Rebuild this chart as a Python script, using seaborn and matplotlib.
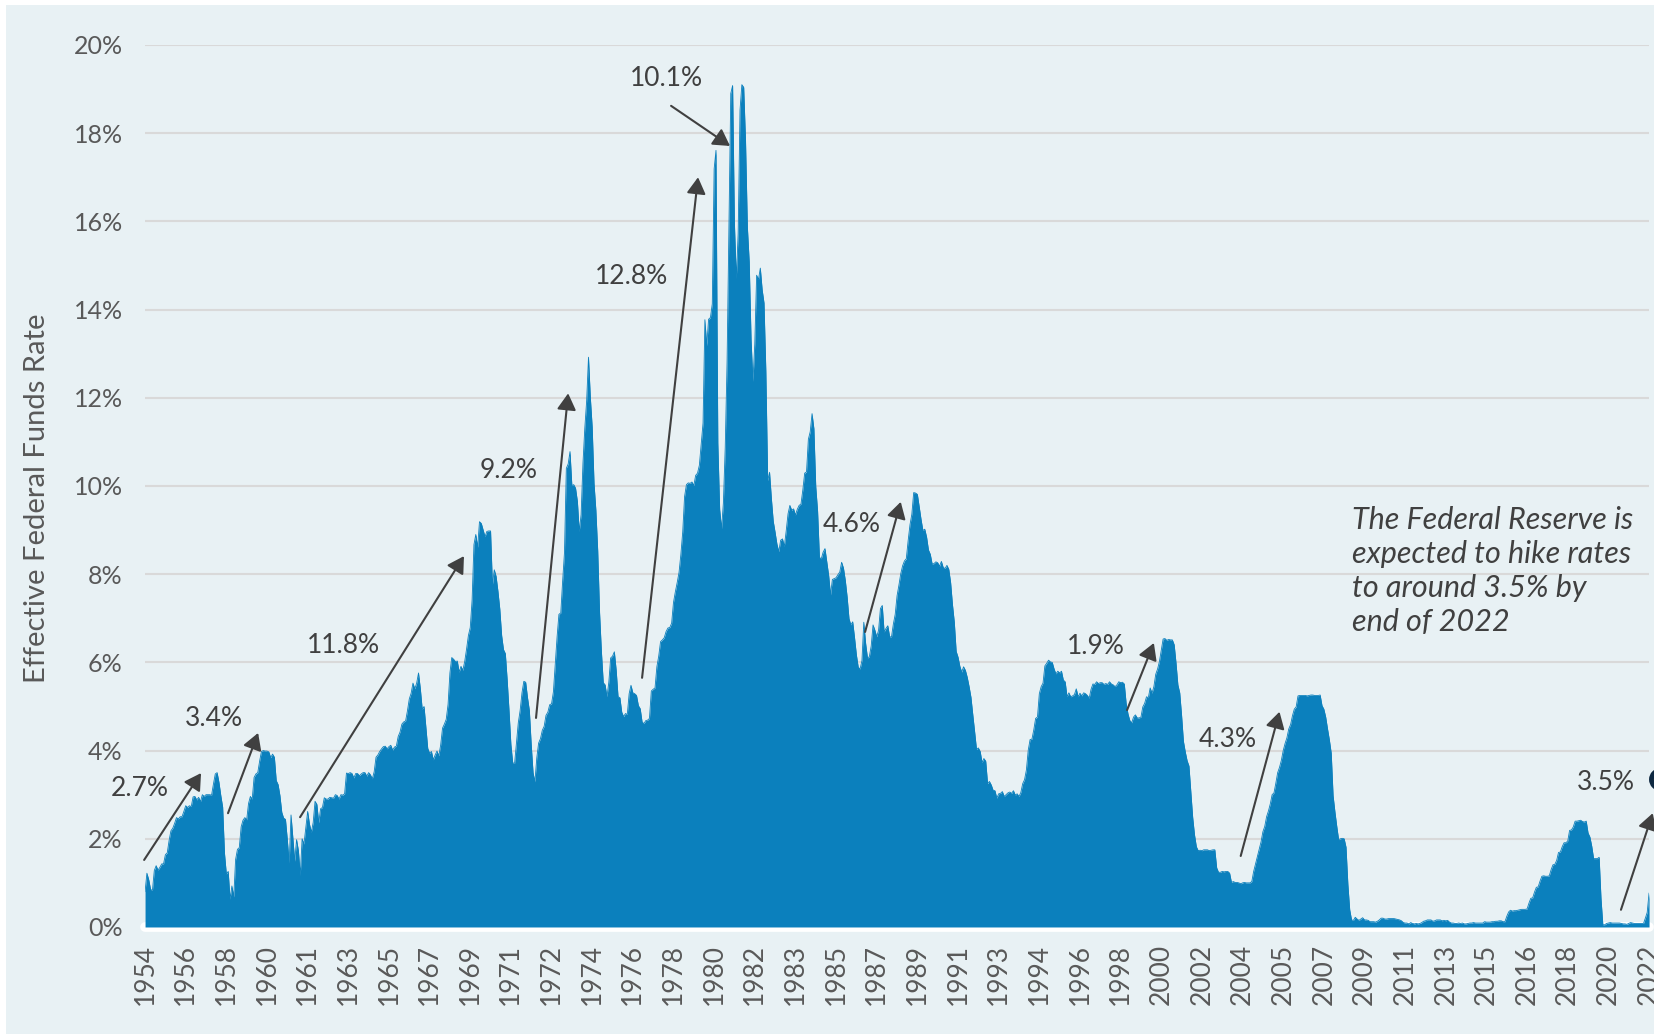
import matplotlib

matplotlib.use("Agg")

import matplotlib.pyplot as plt
import numpy as np
import pandas as pd
import seaborn as sns
from matplotlib.patches import Rectangle

BG = "#E8F1F4"
FILL = "#0B80BD"
GRID = "#D9D9D9"
TICK_GRAY = "#595959"
NOTE_GRAY = "#404040"

# monthly effective federal funds rate in %, Jul 1954 .. May 2022
rates_1950s = [
    0.80, 1.22, 1.07, 0.85, 0.83, 1.28,
    1.39, 1.29, 1.35, 1.43, 1.43, 1.64, 1.68, 1.96, 2.18, 2.24, 2.35, 2.48,
    2.45, 2.50, 2.50, 2.62, 2.75, 2.71, 2.75, 2.73, 2.95, 2.96, 2.88, 2.94,
    2.84, 3.00, 2.96, 3.00, 3.00, 3.00, 2.99, 3.24, 3.47, 3.50, 3.28, 2.98,
    2.72, 1.67, 1.20, 1.26, 0.63, 0.93, 0.68, 1.53, 1.76, 1.80, 2.27, 2.42,
    2.48, 2.43, 2.80, 2.96, 2.90, 3.39, 3.47, 3.50, 3.76, 3.98, 4.00, 3.99,
]
rates_1960s = [
    3.99, 3.97, 3.84, 3.92, 3.85, 3.32, 3.23, 2.98, 2.60, 2.47, 2.44, 1.98,
    1.45, 2.54, 2.02, 1.49, 1.98, 1.73, 1.17, 2.00, 1.88, 2.26, 2.62, 2.33,
    2.15, 2.37, 2.85, 2.78, 2.36, 2.68, 2.71, 2.93, 2.90, 2.90, 2.94, 2.93,
    2.92, 3.00, 2.98, 2.90, 3.00, 2.99, 3.02, 3.49, 3.48, 3.50, 3.48, 3.38,
    3.48, 3.48, 3.43, 3.47, 3.50, 3.50, 3.42, 3.50, 3.45, 3.36, 3.52, 3.85,
    3.90, 3.98, 4.04, 4.09, 4.10, 4.04, 4.09, 4.12, 4.01, 4.08, 4.10, 4.32,
    4.42, 4.60, 4.65, 4.67, 4.90, 5.17, 5.30, 5.53, 5.40, 5.53, 5.76, 5.40,
    4.94, 5.00, 4.53, 4.05, 3.94, 3.98, 3.79, 3.90, 3.99, 3.88, 4.13, 4.51,
    4.60, 4.71, 5.05, 5.76, 6.11, 6.07, 6.02, 6.03, 5.78, 5.91, 5.82, 6.02,
    6.30, 6.61, 6.79, 7.41, 8.67, 8.90, 8.61, 9.19, 9.15, 9.00, 8.85, 8.97,
]
rates_1970s = [
    8.98, 8.98, 7.76, 8.10, 7.95, 7.61, 7.21, 6.61, 6.29, 6.20, 5.60, 4.90,
    4.14, 3.72, 3.71, 4.16, 4.63, 4.91, 5.31, 5.57, 5.55, 5.20, 4.91, 4.14,
    3.50, 3.29, 3.83, 4.17, 4.27, 4.46, 4.55, 4.80, 4.87, 5.04, 5.06, 5.33,
    5.94, 6.58, 7.09, 7.12, 7.84, 8.49, 10.40, 10.50, 10.78, 10.01, 10.03, 9.95,
    9.65, 8.97, 9.35, 10.51, 11.31, 11.93, 12.92, 12.01, 11.34, 10.06, 9.45, 8.53,
    7.13, 6.24, 5.54, 5.49, 5.22, 5.55, 6.10, 6.14, 6.24, 5.82, 5.22, 5.20,
    4.87, 4.77, 4.84, 4.82, 5.29, 5.48, 5.31, 5.29, 5.25, 5.02, 4.95, 4.65,
    4.61, 4.68, 4.69, 4.73, 5.35, 5.39, 5.42, 5.90, 6.14, 6.47, 6.51, 6.56,
    6.70, 6.78, 6.79, 6.89, 7.36, 7.60, 7.81, 8.04, 8.45, 8.96, 9.76, 10.03,
    10.07, 10.06, 10.09, 10.01, 10.24, 10.29, 10.47, 10.94, 11.43, 13.77, 13.18, 13.78,
]
rates_1980s = [
    13.82, 14.13, 17.19, 17.61, 10.98, 9.47, 9.03, 9.61, 10.87, 12.81, 15.85, 18.90,
    19.08, 15.93, 14.70, 15.72, 18.52, 19.10, 19.04, 17.82, 15.87, 15.08, 13.31, 12.37,
    13.22, 14.78, 14.68, 14.94, 14.45, 14.15, 12.59, 10.12, 10.31, 9.71, 9.20, 8.95,
    8.68, 8.51, 8.77, 8.80, 8.63, 8.98, 9.37, 9.56, 9.45, 9.48, 9.34, 9.47,
    9.56, 9.59, 9.91, 10.29, 10.32, 11.06, 11.23, 11.64, 11.30, 9.99, 9.43, 8.38,
    8.35, 8.50, 8.58, 8.27, 7.97, 7.53, 7.88, 7.90, 7.92, 7.99, 8.05, 8.27,
    8.14, 7.86, 7.48, 6.99, 6.85, 6.92, 6.56, 6.17, 5.89, 5.85, 6.04, 6.91,
    6.43, 6.10, 6.13, 6.37, 6.85, 6.73, 6.58, 6.73, 7.22, 7.29, 6.69, 6.77,
    6.83, 6.58, 6.58, 6.87, 7.09, 7.51, 7.75, 8.01, 8.19, 8.30, 8.35, 8.76,
    9.12, 9.36, 9.85, 9.84, 9.81, 9.53, 9.24, 8.99, 9.02, 8.84, 8.55, 8.45,
]
rates_1990s = [
    8.23, 8.24, 8.28, 8.26, 8.18, 8.29, 8.15, 8.13, 8.20, 8.11, 7.81, 7.31,
    6.91, 6.25, 6.12, 5.91, 5.78, 5.90, 5.82, 5.66, 5.45, 5.21, 4.81, 4.43,
    4.03, 4.06, 3.98, 3.73, 3.82, 3.76, 3.25, 3.30, 3.22, 3.10, 3.09, 2.92,
    3.02, 3.03, 3.07, 2.96, 3.00, 3.04, 3.06, 3.03, 3.09, 2.99, 3.02, 2.96,
    3.05, 3.25, 3.34, 3.56, 4.01, 4.25, 4.26, 4.47, 4.73, 4.76, 5.29, 5.45,
    5.53, 5.92, 5.98, 6.05, 6.01, 6.00, 5.85, 5.74, 5.80, 5.76, 5.80, 5.60,
    5.56, 5.22, 5.31, 5.22, 5.24, 5.27, 5.40, 5.22, 5.30, 5.24, 5.31, 5.29,
    5.25, 5.19, 5.39, 5.51, 5.50, 5.56, 5.52, 5.54, 5.54, 5.50, 5.52, 5.50,
    5.56, 5.51, 5.49, 5.45, 5.49, 5.56, 5.54, 5.55, 5.51, 5.07, 4.83, 4.68,
    4.63, 4.76, 4.81, 4.74, 4.74, 4.76, 4.99, 5.07, 5.22, 5.20, 5.42, 5.30,
]
rates_2000s = [
    5.45, 5.73, 5.85, 6.02, 6.27, 6.53, 6.54, 6.50, 6.52, 6.51, 6.51, 6.40,
    5.98, 5.49, 5.31, 4.80, 4.21, 3.97, 3.77, 3.65, 3.07, 2.49, 2.09, 1.82,
    1.73, 1.74, 1.73, 1.75, 1.75, 1.75, 1.73, 1.74, 1.75, 1.75, 1.34, 1.24,
    1.24, 1.26, 1.25, 1.26, 1.26, 1.22, 1.01, 1.03, 1.01, 1.01, 1.00, 0.98,
    1.00, 1.01, 1.00, 1.00, 1.00, 1.03, 1.26, 1.43, 1.61, 1.76, 1.93, 2.16,
    2.28, 2.50, 2.63, 2.79, 3.00, 3.04, 3.26, 3.50, 3.62, 3.78, 4.00, 4.16,
    4.29, 4.49, 4.59, 4.79, 4.94, 4.99, 5.24, 5.25, 5.25, 5.25, 5.25, 5.24,
    5.25, 5.26, 5.26, 5.25, 5.25, 5.25, 5.26, 5.02, 4.94, 4.76, 4.49, 4.24,
    3.94, 2.98, 2.61, 2.28, 1.98, 2.00, 2.01, 2.00, 1.81, 0.97, 0.39, 0.16,
    0.15, 0.22, 0.18, 0.15, 0.18, 0.21, 0.16, 0.16, 0.15, 0.12, 0.12, 0.12,
]
rates_2010s = [
    0.11, 0.13, 0.16, 0.20, 0.20, 0.18, 0.18, 0.19, 0.19, 0.19, 0.19, 0.18,
    0.17, 0.16, 0.14, 0.10, 0.09, 0.09, 0.07, 0.10, 0.08, 0.07, 0.08, 0.07,
    0.08, 0.10, 0.13, 0.14, 0.16, 0.16, 0.16, 0.13, 0.14, 0.16, 0.16, 0.16,
    0.14, 0.15, 0.14, 0.15, 0.11, 0.09, 0.09, 0.08, 0.08, 0.09, 0.08, 0.09,
    0.07, 0.07, 0.08, 0.09, 0.09, 0.10, 0.09, 0.09, 0.09, 0.09, 0.09, 0.12,
    0.11, 0.11, 0.11, 0.12, 0.12, 0.13, 0.13, 0.14, 0.14, 0.12, 0.12, 0.24,
    0.34, 0.38, 0.36, 0.37, 0.37, 0.38, 0.39, 0.40, 0.40, 0.40, 0.41, 0.54,
    0.65, 0.66, 0.79, 0.90, 0.91, 1.04, 1.15, 1.16, 1.15, 1.15, 1.16, 1.30,
    1.41, 1.42, 1.51, 1.69, 1.70, 1.82, 1.91, 1.91, 1.95, 2.19, 2.20, 2.27,
    2.40, 2.40, 2.41, 2.42, 2.39, 2.38, 2.40, 2.13, 2.04, 1.83, 1.55, 1.55,
]
rates_2020s = [
    1.55, 1.58, 0.65, 0.05, 0.05, 0.08, 0.09, 0.10, 0.09, 0.09, 0.09, 0.09,
    0.09, 0.08, 0.07, 0.07, 0.06, 0.08, 0.10, 0.09, 0.08, 0.08, 0.08, 0.08,
    0.08, 0.08, 0.20, 0.33, 0.77,
]

# one axis label every 22 months, starting Jul 1954
tick_years = [1954, 1956, 1958, 1960, 1961, 1963, 1965, 1967, 1969, 1971,
              1972, 1974, 1976, 1978, 1980, 1982, 1983, 1985, 1987, 1989,
              1991, 1993, 1994, 1996, 1998, 2000, 2002, 2004, 2005, 2007,
              2009, 2011, 2013, 2015, 2016, 2018, 2020, 2022]
tick_step = 22

# year-end forecast marker, sits just past the last month
forecast_month = 820
forecast_value = 3.35

# hike labels: text, label centre, arrow tail, arrow head (month index, %)
hike_notes = [
    ("2.7%", (-2.7, 3.15), (-0.5, 1.52), (30.3, 3.49)),
    ("3.4%", (37.3, 4.72), (44.9, 2.58), (61.2, 4.40)),
    ("11.8%", (107.6, 6.38), (83.9, 2.49), (172.6, 8.41)),
    ("9.2%", (197.0, 10.34), (211.6, 4.74), (229.0, 12.10)),
    ("12.8%", (263.5, 14.74), (269.0, 5.65), (299.3, 17.00)),
    ("10.1%", (282.0, 19.25), (284.7, 18.62), (316.6, 17.71)),
    ("4.6%", (382.6, 9.12), (389.7, 6.69), (409.0, 9.64)),
    ("1.9%", (514.7, 6.37), (531.5, 4.92), (546.0, 6.44)),
    ("4.3%", (586.0, 4.26), (593.0, 1.61), (614.0, 4.88)),
    ("3.5%", (790.7, 3.27), (798.8, 0.39), (816.0, 2.58)),
]

NOTE_TEXT = "The Federal Reserve is\nexpected to hike rates\nto around 3.5% by\nend of 2022"


def setup_style() -> None:
    sns.set_theme(style="white")
    plt.rcParams["font.family"] = ["Lato", "DejaVu Sans"]


def main() -> None:
    setup_style()
    rates = (rates_1950s + rates_1960s + rates_1970s + rates_1980s
             + rates_1990s + rates_2000s + rates_2010s + rates_2020s)
    data = pd.DataFrame({"month": np.arange(len(rates)), "rate": rates})

    fig = plt.figure(figsize=(16.54, 10.34), dpi=100)
    fig.patch.set_facecolor("white")
    fig.add_artist(Rectangle((6 / 1654, 0), 1, 1 - 5 / 1034, transform=fig.transFigure,
                             facecolor=BG, edgecolor="none", zorder=-5))
    ax = fig.add_axes([0.0877, 0.1035, 0.9093, 0.8530])
    ax.set_facecolor(BG)

    ax.fill_between(data["month"], data["rate"], color=FILL, linewidth=0, zorder=2)
    sns.lineplot(data=data, x="month", y="rate", color=FILL, linewidth=0.6, ax=ax, zorder=2)
    ax.axhline(0, color="white", linewidth=7, zorder=1.5, clip_on=False)

    ax.set_xlim(0, len(rates) - 1)
    ax.set_ylim(0, 20)
    ax.set_yticks(np.arange(0, 21, 2))
    ax.set_yticklabels([f"{v}%" for v in range(0, 21, 2)])
    ax.set_xticks(np.arange(0, len(rates), tick_step))
    ax.set_xticklabels([str(y) for y in tick_years], rotation=90)
    ax.tick_params(axis="y", length=0, pad=16, labelsize=18, labelcolor=TICK_GRAY)
    ax.tick_params(axis="x", length=0, pad=12, labelsize=19, labelcolor=TICK_GRAY)
    ax.grid(axis="y", color=GRID, linewidth=1.5, zorder=0)
    ax.grid(axis="x", visible=False)
    ax.set_axisbelow(True)
    for spine in ax.spines.values():
        spine.set_visible(False)

    ax.set_xlabel("")
    ax.set_ylabel("Effective Federal Funds Rate", fontsize=21, color=TICK_GRAY)
    ax.yaxis.set_label_coords(-0.0634, 0.486)

    for label, text_xy, tail, head in hike_notes:
        ax.text(*text_xy, label, ha="center", va="center", fontsize=19,
                color=NOTE_GRAY, clip_on=False)
        ax.annotate("", xy=head, xytext=tail, annotation_clip=False,
                    arrowprops=dict(arrowstyle="-|>,head_length=0.5,head_width=0.29",
                                    mutation_scale=20, color=NOTE_GRAY, lw=1.5,
                                    shrinkA=0, shrinkB=0))

    ax.plot([forecast_month], [forecast_value], marker="o", markersize=13,
            markerfacecolor="#E97132", markeredgecolor="#0E2841", markeredgewidth=3.5,
            linestyle="none", clip_on=False, zorder=6)

    ax.text(653.2, 9.55, NOTE_TEXT, ha="left", va="top", fontsize=22, style="italic",
            color=NOTE_GRAY, linespacing=1.27)

    fig.savefig("out.png", dpi=100, facecolor=fig.get_facecolor())
    plt.close(fig)


if __name__ == "__main__":
    main()
